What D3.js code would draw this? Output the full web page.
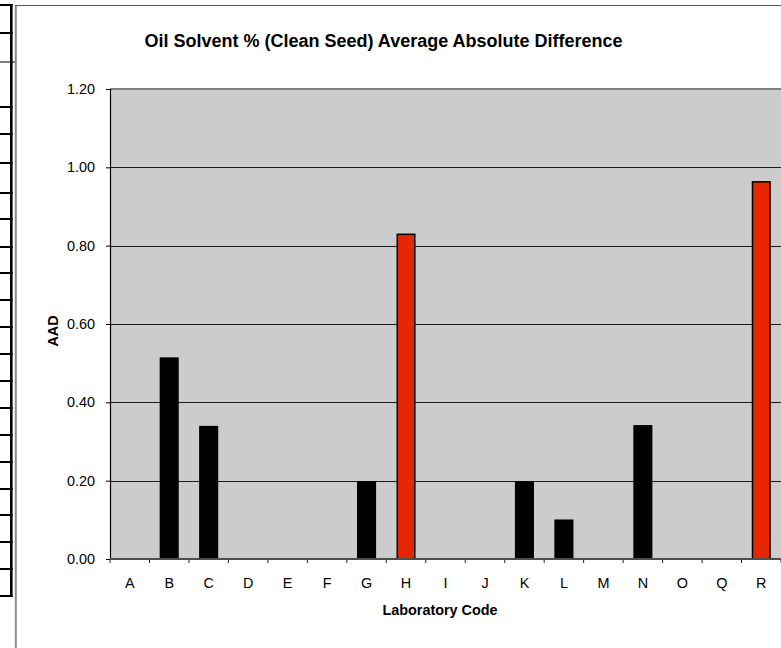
<!DOCTYPE html>
<html>
<head>
<meta charset="utf-8">
<script src="https://cdn.jsdelivr.net/npm/d3@7"></script>
<style>
  html, body { margin: 0; padding: 0; background: #fff; }
  svg { display: block; font-family: "Liberation Sans", Arial, sans-serif; }
</style>
</head>
<body>
<svg id="chart" width="781" height="648"></svg>
<script>
const categories = ["A","B","C","D","E","F","G","H","I","J","K","L","M","N","O","Q","R"];
const aadValues  = [0, 0.513, 0.338, 0, 0, 0, 0.197, 0.829, 0, 0, 0.197, 0.099, 0, 0.340, 0, 0, 0.963];
const flaggedLabs = ["H", "R"];
const yTickValues = [0, 0.2, 0.4, 0.6, 0.8, 1.0, 1.2];
const titleText = "Oil Solvent % (Clean Seed) Average Absolute Difference";
const yAxisTitle = "AAD";
const xAxisTitle = "Laboratory Code";
const tableRuleYs = [33, 107, 134, 163, 193, 219, 247, 273, 300, 327, 354, 381, 408, 435, 462, 489, 515, 542, 569, 596];

const data = categories.map((c, i) => ({ lab: c, value: aadValues[i], flagged: flaggedLabs.includes(c) }));

const svg = d3.select("#chart");

// Left spreadsheet strip (partial table borders)
const strip = svg.append("g");
strip.append("line").attr("x1", 11.3).attr("x2", 11.3).attr("y1", 4).attr("y2", 597)
  .attr("stroke", "#000").attr("stroke-width", 2.6);
strip.append("line").attr("x1", 0).attr("x2", 12.5).attr("y1", 5).attr("y2", 5)
  .attr("stroke", "#000").attr("stroke-width", 2);
strip.selectAll("line.rule").data(tableRuleYs).join("line").attr("class", "rule")
  .attr("x1", 0).attr("x2", 12.5).attr("y1", d => d).attr("y2", d => d)
  .attr("stroke", "#000").attr("stroke-width", 2);
strip.append("line").attr("x1", 0).attr("x2", 16).attr("y1", 62).attr("y2", 62)
  .attr("stroke", "#000").attr("stroke-width", 1);

// Chart frame
svg.append("line").attr("x1", 15.8).attr("x2", 15.8).attr("y1", 5).attr("y2", 648)
  .attr("stroke", "#8a8a8a").attr("stroke-width", 2);
svg.append("line").attr("x1", 15).attr("x2", 781).attr("y1", 5.5).attr("y2", 5.5)
  .attr("stroke", "#555", ).attr("stroke-width", 1.2);

// Plot area
const plot = { left: 110, top: 89, right: 781, bottom: 559 };

const x = d3.scaleBand().domain(categories).range([plot.left, plot.right])
  .paddingInner(0.555).paddingOuter(0.2775);
const y = d3.scaleLinear().domain([0, 1.2]).range([plot.bottom, plot.top]);

svg.append("rect").attr("x", plot.left).attr("y", plot.top)
  .attr("width", plot.right - plot.left + 5).attr("height", plot.bottom - plot.top)
  .attr("fill", "#cccccc");
// top border of plot area
svg.append("line").attr("x1", plot.left).attr("x2", plot.right).attr("y1", plot.top).attr("y2", plot.top)
  .attr("stroke", "#808080").attr("stroke-width", 2);

// gridlines
svg.append("g").selectAll("line").data(yTickValues.filter(v => v > 0 && v < 1.2)).join("line")
  .attr("x1", plot.left).attr("x2", plot.right + 5)
  .attr("y1", d => Math.round(y(d)) + 0.5).attr("y2", d => Math.round(y(d)) + 0.5)
  .attr("stroke", "#1a1a1a").attr("stroke-width", 1);

// bars
svg.append("g").selectAll("rect").data(data.filter(d => d.value > 0)).join("rect")
  .attr("x", d => x(d.lab))
  .attr("y", d => y(d.value))
  .attr("width", x.bandwidth())
  .attr("height", d => y(0) - y(d.value))
  .attr("fill", d => d.flagged ? "#e52600" : "#000")
  .attr("stroke", "#000").attr("stroke-width", 1.5);

// y axis
const yAxis = svg.append("g").attr("transform", `translate(${plot.left},0)`)
  .call(d3.axisLeft(y).tickValues(yTickValues).tickFormat(d3.format(".2f")).tickSize(4).tickPadding(11));
yAxis.select(".domain").attr("stroke", "#000").attr("stroke-width", 1.2);
yAxis.selectAll(".tick line").attr("stroke", "#000");
yAxis.selectAll("text").attr("font-size", 14.4).attr("fill", "#000")
  .attr("font-family", "'Liberation Sans', Arial, sans-serif");

// x axis (labels)
const xAxis = svg.append("g").attr("transform", `translate(0,${plot.bottom})`)
  .call(d3.axisBottom(x).tickSize(0).tickPadding(19));
xAxis.select(".domain").remove();
xAxis.selectAll("text").attr("font-size", 14.4).attr("fill", "#000")
  .attr("font-family", "'Liberation Sans', Arial, sans-serif");

// x tick marks at category boundaries
const boundaries = categories.map(c => x(c) + x.bandwidth() / 2 - x.step() / 2).concat([plot.right]);
svg.append("g").selectAll("line").data(boundaries).join("line")
  .attr("x1", d => d).attr("x2", d => d)
  .attr("y1", plot.bottom).attr("y2", plot.bottom + 4)
  .attr("stroke", "#222").attr("stroke-width", 1);
// baseline
svg.append("line").attr("x1", plot.left).attr("x2", plot.right + 5)
  .attr("y1", plot.bottom).attr("y2", plot.bottom)
  .attr("stroke", "#4d4d4d").attr("stroke-width", 2);

// titles
svg.append("text").attr("x", 383.5).attr("y", 47).attr("text-anchor", "middle")
  .attr("font-size", 18).attr("font-weight", "bold").text(titleText);
svg.append("text").attr("transform", "translate(58,331) rotate(-90)").attr("text-anchor", "middle")
  .attr("font-size", 14.4).attr("font-weight", "bold").text(yAxisTitle);
svg.append("text").attr("x", 440).attr("y", 615).attr("text-anchor", "middle")
  .attr("font-size", 14.4).attr("font-weight", "bold").text(xAxisTitle);
</script>
</body>
</html>
